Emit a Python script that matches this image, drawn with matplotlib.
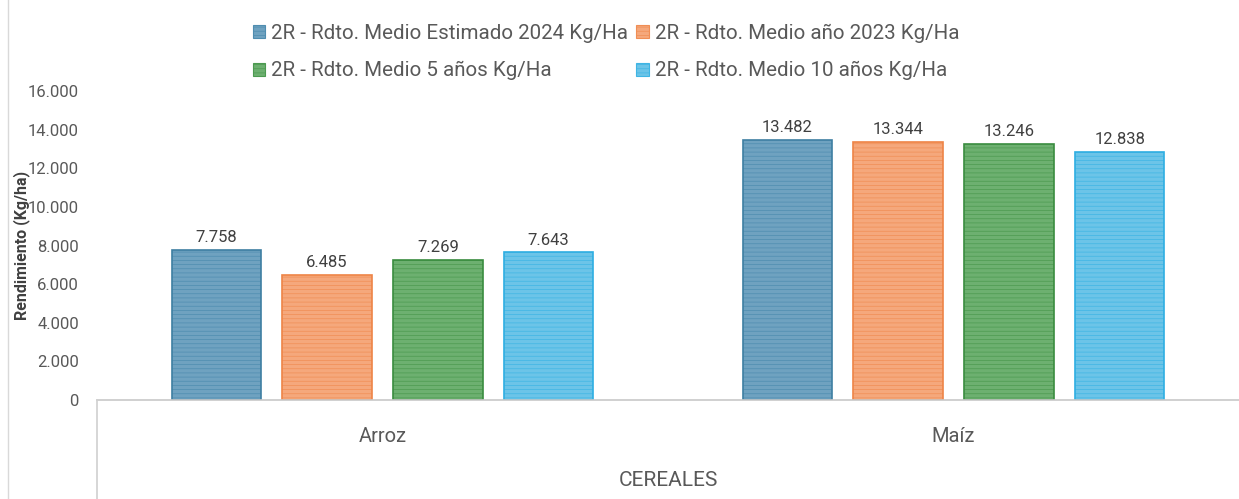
import matplotlib
matplotlib.use("Agg")
import matplotlib.pyplot as plt
import numpy as np
from matplotlib.lines import Line2D
from matplotlib.patches import Patch

plt.rcParams['font.family'] = ['Roboto', 'DejaVu Sans']
plt.rcParams['hatch.linewidth'] = 0.5

categories = ["Arroz", "Maíz"]
series = [
    "2R - Rdto. Medio Estimado 2024 Kg/Ha",
    "2R - Rdto. Medio año 2023 Kg/Ha",
    "2R - Rdto. Medio 5 años Kg/Ha",
    "2R - Rdto. Medio 10 años Kg/Ha",
]
est_2024 = [7758, 13482]
year_2023 = [6485, 13344]
avg_5y = [7269, 13246]
avg_10y = [7643, 12838]
values = [est_2024, year_2023, avg_5y, avg_10y]
y_ticks = [0, 2000, 4000, 6000, 8000, 10000, 12000, 14000, 16000]
group_title = "CEREALES"
y_label = "Rendimiento (Kg/ha)"

fills = ["#6FA2C0", "#F5A87C", "#6DB070", "#6CC4E8"]
hatchc = ["#4F8DB0", "#F08E55", "#4C9A50", "#3FB5E4"]
edges = ["#3E7FA2", "#EE8447", "#3A8C3F", "#2EAEE2"]

def fmt(v):
    return f"{v:,.0f}".replace(",", ".")

fig = plt.figure(figsize=(12.39, 4.99), dpi=100)
ax = fig.add_axes([97/1239, 99/499, 1 - 97/1239, 309/499])

x = np.arange(len(categories)) + 0.5
width = 0.157
step = 0.194
for i, vals in enumerate(values):
    pos = x + (i - 1.5) * step
    ax.bar(pos, vals, width, color=fills[i], edgecolor=hatchc[i], hatch='----', linewidth=0)
    ax.bar(pos, vals, width, facecolor='none', edgecolor=edges[i], linewidth=1.2)
    for p, v in zip(pos, vals):
        ax.text(p, v + 250, fmt(v), ha='center', va='bottom', fontsize=12, color='#404040')

ax.set_xlim(0, 2)
ax.set_ylim(0, 16000)
ax.set_yticks(y_ticks)
ax.set_yticklabels([fmt(t) for t in y_ticks], fontsize=12, color='#595959')
ax.tick_params(axis='y', length=0, pad=13)
ax.set_xticks([])
for s in ['top', 'right', 'left']:
    ax.spines[s].set_visible(False)
ax.spines['bottom'].set_color('#C8C8C8')
ax.spines['bottom'].set_linewidth(1.2)

ax.set_ylabel(y_label, fontsize=11.5, fontweight='bold', color='#404040')
ax.yaxis.set_label_coords(-0.059, 0.5)

for xc, c in zip(x, categories):
    ax.text(xc, -0.117, c, transform=ax.get_xaxis_transform(), ha='center', va='center', fontsize=14.5, color='#595959')
ax.text(1.0, -0.26, group_title, transform=ax.get_xaxis_transform(), ha='center', va='center', fontsize=15, color='#595959')

# category axis vertical line and chart border
fig.add_artist(Line2D([97/1239, 97/1239], [0, 99/499], color='#D0D0D0', lw=1.2))
fig.add_artist(Line2D([8/1239, 8/1239], [0, 1], color='#D9D9D9', lw=1))

handles = [Patch(facecolor=fills[i], edgecolor=hatchc[i], hatch='----', linewidth=0.8) for i in range(4)]
order = [0, 2, 1, 3]
leg = fig.legend([handles[i] for i in order], [series[i] for i in order], ncol=2,
                 loc='upper left', bbox_to_anchor=(234/1239, 1 - 5/499),
                 frameon=False, fontsize=14.8, handlelength=0.6, handleheight=0.6,
                 handletextpad=0.3, columnspacing=0.4, labelspacing=0.9)
for t in leg.get_texts():
    t.set_color('#595959')

fig.savefig("out.png", dpi=100)
